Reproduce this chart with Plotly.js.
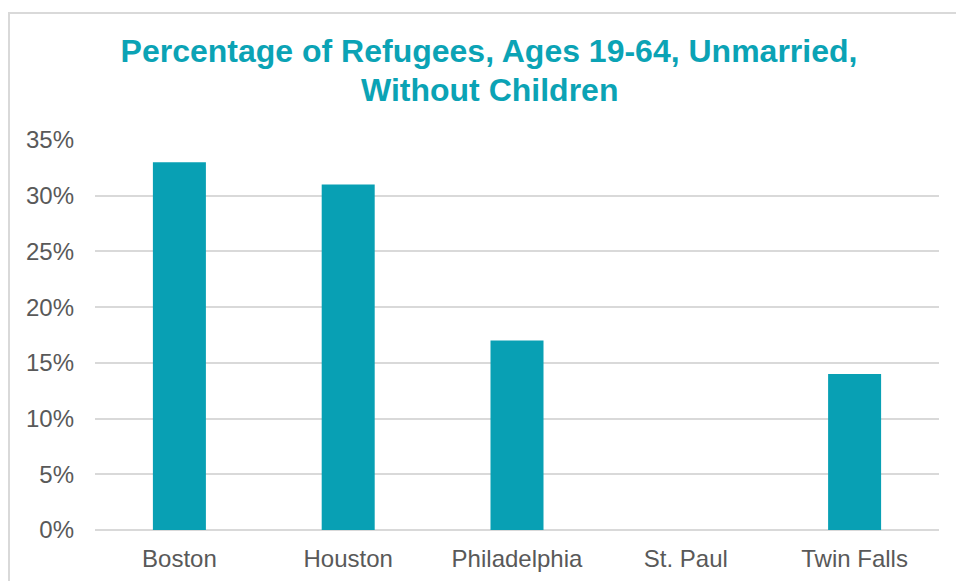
<!DOCTYPE html>
<html>
<head>
<meta charset="utf-8">
<script src="https://cdn.plot.ly/plotly-3.0.1.min.js"></script>
<style>
  html, body { margin: 0; padding: 0; background: #ffffff; overflow: hidden; }
  #frame {
    position: absolute; left: 8px; top: 12px;
    width: 980px; height: 600px;
    border: 2px solid #d9d9d9; box-sizing: border-box;
  }
  #chart { position: absolute; left: 0; top: 0; width: 956px; height: 581px; }
</style>
</head>
<body>
<div id="frame"></div>
<div id="chart"></div>
<script>
// Share of refugees aged 19-64, unmarried and without children, by city
const cities = ["Boston", "Houston", "Philadelphia", "St. Paul", "Twin Falls"];
const percentUnmarriedNoChildren = [33, 31, 17, 0, 14];
const yTickValues = [0, 5, 10, 15, 20, 25, 30, 35];
const yTickLabels = yTickValues.map(v => v + "%");

const titleLine1 = "Percentage of Refugees, Ages 19-64, Unmarried,";
const titleLine2 = "Without Children";

const teal = "#08a0b4";
const titleTeal = "#0ba3b5";
const labelGray = "#595959";
const fontStack = "Liberation Sans, Arial, sans-serif";

const trace = {
  type: "bar",
  x: cities,
  y: percentUnmarriedNoChildren,
  marker: { color: teal, line: { width: 0 } },
  hoverinfo: "x+y"
};

const layout = {
  width: 956,
  height: 581,
  paper_bgcolor: "rgba(0,0,0,0)",
  plot_bgcolor: "rgba(0,0,0,0)",
  margin: { l: 95, r: 17, t: 140, b: 51 },
  bargap: 0.686,
  showlegend: false,
  font: { family: fontStack, color: labelGray },
  title: {
    text: "<b>" + titleLine1 + "</b>",
    font: { family: fontStack, size: 32, color: titleTeal },
    x: 0.5115,
    xanchor: "center",
    y: 1 - 62 / 581,
    yanchor: "bottom"
  },
  annotations: [{
    text: "<b>" + titleLine2 + "</b>",
    font: { family: fontStack, size: 32, color: titleTeal },
    xref: "paper",
    yref: "paper",
    x: 0.468,
    y: 1.0,
    xanchor: "center",
    yanchor: "bottom",
    yshift: 30,
    showarrow: false
  }],
  xaxis: {
    type: "category",
    showgrid: false,
    zeroline: false,
    showline: false,
    ticks: "",
    tickfont: { size: 24, color: labelGray },
    ticklabelstandoff: 12
  },
  yaxis: {
    range: [0, 35],
    tickmode: "array",
    tickvals: yTickValues,
    ticktext: yTickLabels,
    showgrid: true,
    gridcolor: "#d9d9d9",
    gridwidth: 2,
    zeroline: true,
    zerolinecolor: "#d9d9d9",
    zerolinewidth: 2,
    showline: false,
    ticks: "",
    tickfont: { size: 24, color: labelGray },
    ticklabelstandoff: 20
  }
};

Plotly.newPlot("chart", [trace], layout, { displayModeBar: false, staticPlot: true });
</script>
</body>
</html>
